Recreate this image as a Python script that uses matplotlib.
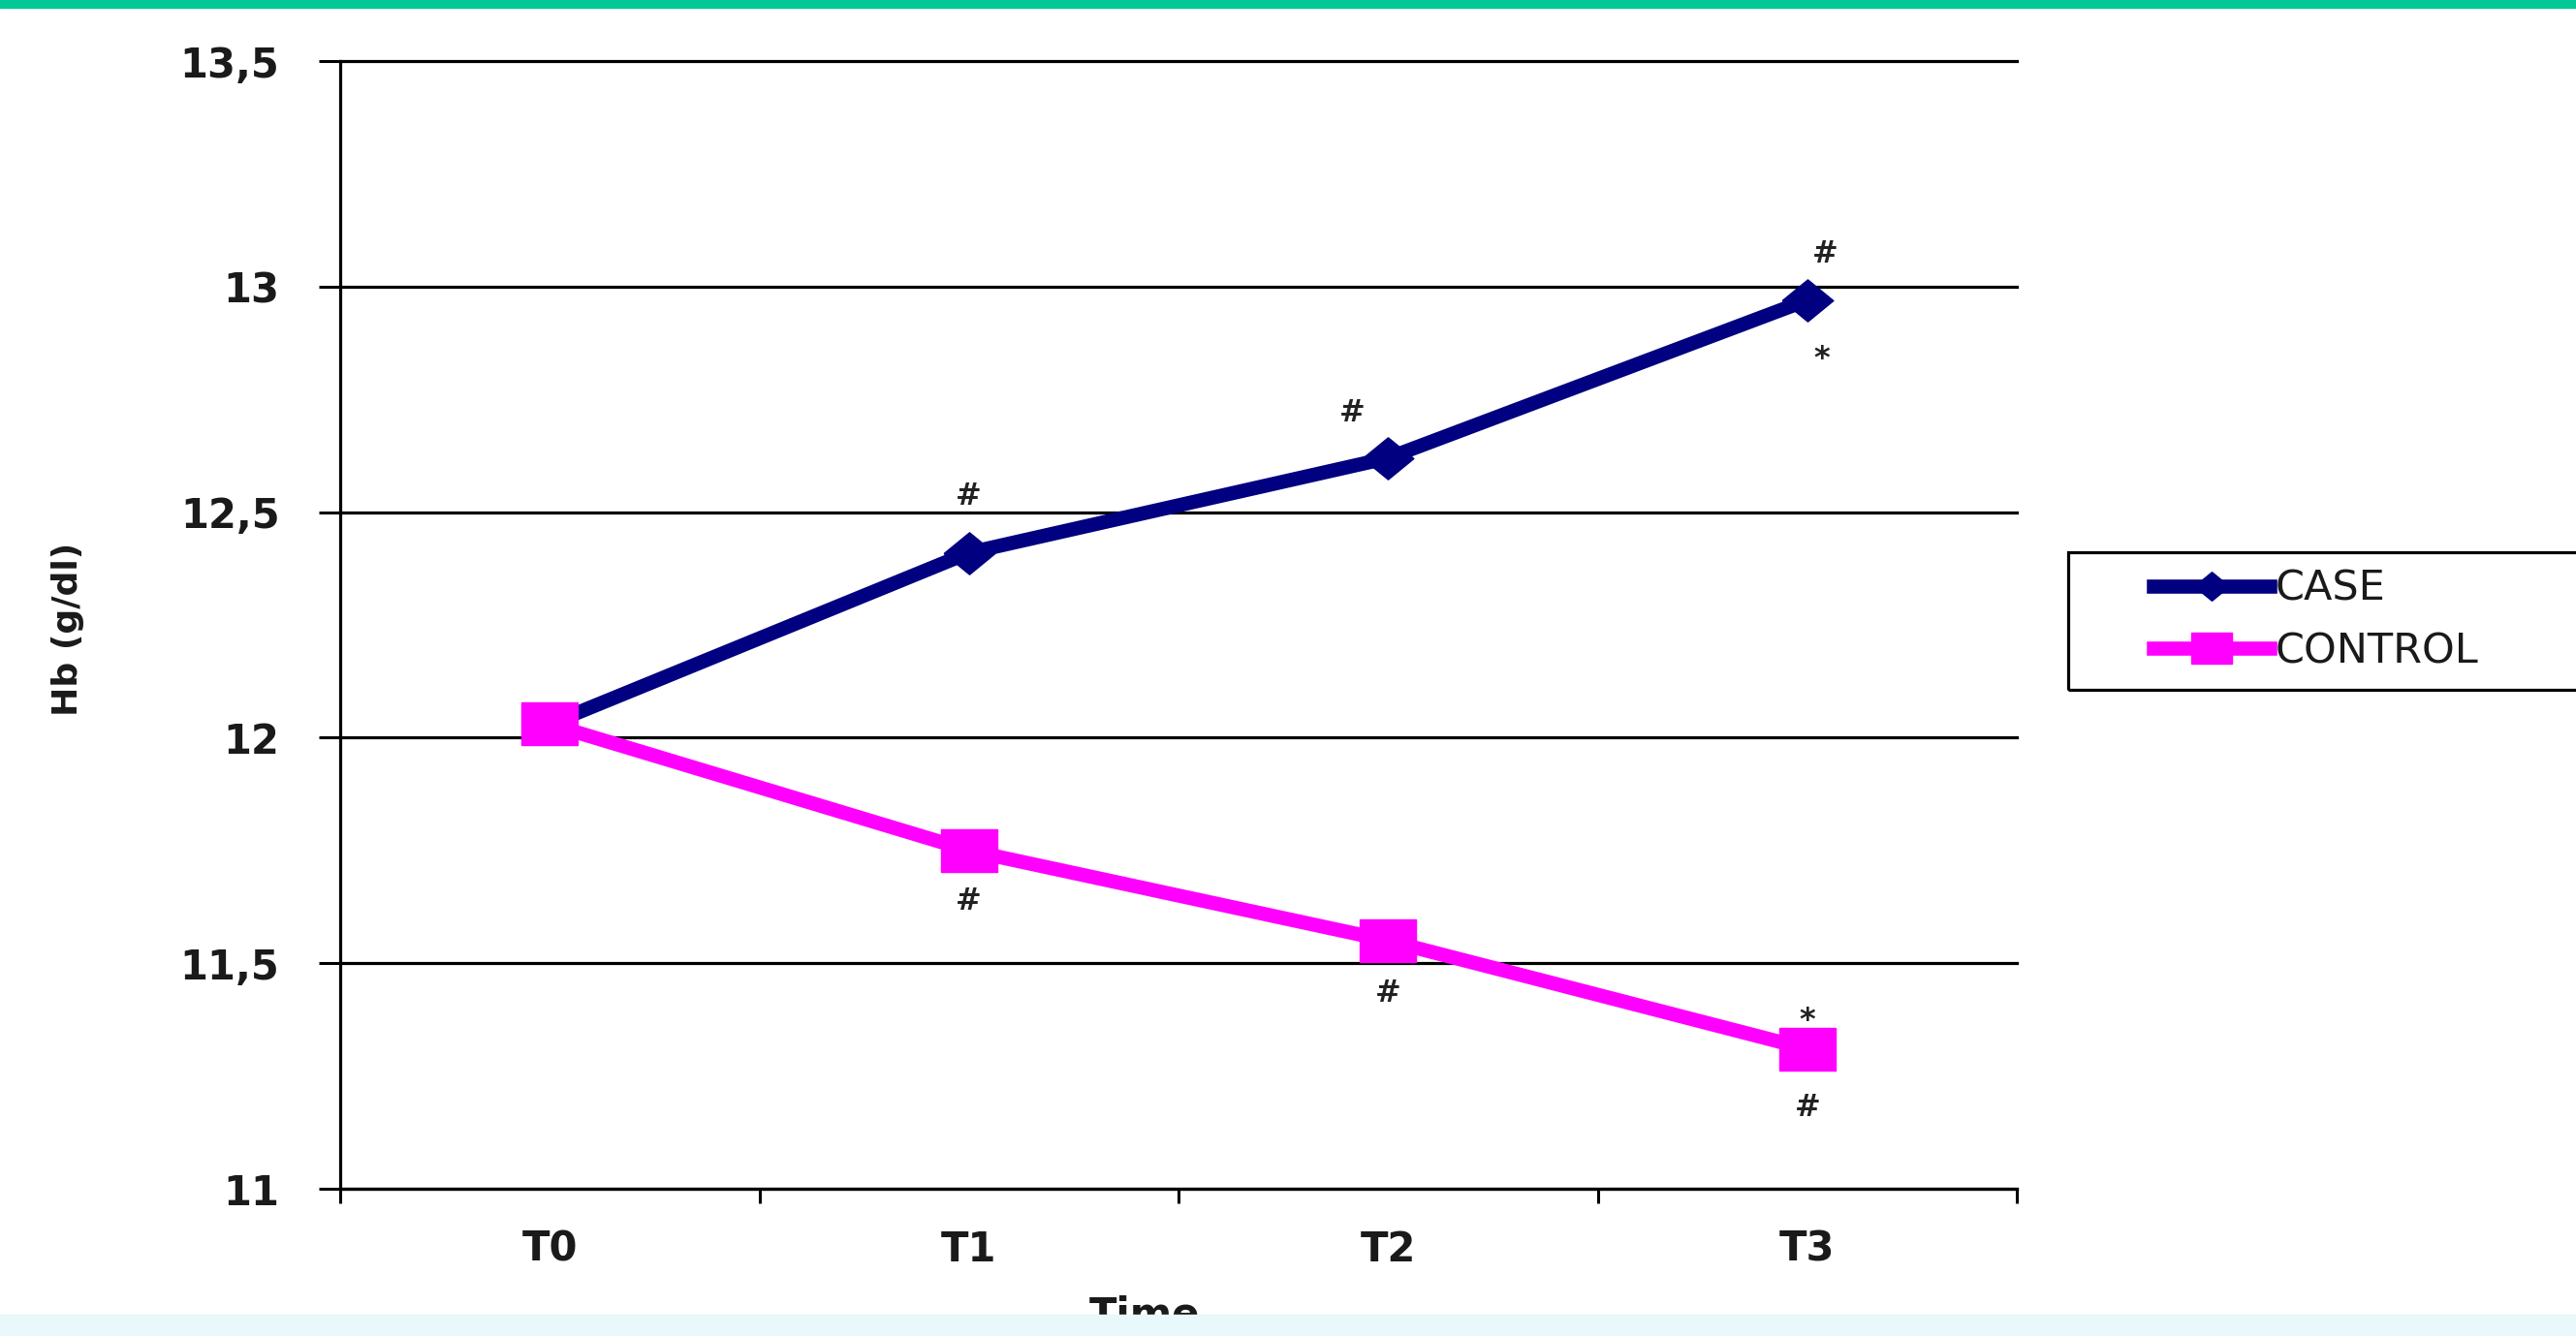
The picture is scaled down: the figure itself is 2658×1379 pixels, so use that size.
import matplotlib
matplotlib.use("Agg")
import matplotlib.pyplot as plt
from matplotlib.patches import Rectangle
from matplotlib.lines import Line2D

# data
times = ["T0", "T1", "T2", "T3"]
case_hb = [12.03, 12.41, 12.62, 12.97]
control_hb = [12.03, 11.75, 11.55, 11.31]
y_ticks = [11, 11.5, 12, 12.5, 13, 13.5]
y_tick_labels = ["11", "11,5", "12", "12,5", "13", "13,5"]

# significance marks: (series, index, symbol, dx pt, dy pt)
marks = [
    ("case", 1, "#", 0, 42),
    ("case", 2, "#", -27, 33),
    ("case", 3, "#", 13, 34),
    ("case", 3, "*", 11, -44),
    ("control", 1, "#", 0, -38),
    ("control", 2, "#", 0, -39),
    ("control", 3, "*", 0, 21),
    ("control", 3, "#", 0, -44),
]

W, H = 2658, 1379
fig = plt.figure(figsize=(W / 100, H / 100), dpi=100)
fig.patch.set_facecolor("white")
ax = fig.add_axes([351 / W, (H - 1227) / H, 1730 / W, 1164 / H])

navy = "#000080"
magenta = "#FF00FF"
diamond = [(-1, 0), (0, 0.82), (1, 0), (0, -0.82), (-1, 0)]
rect = [(-1, -0.77), (1, -0.77), (1, 0.77), (-1, 0.77), (-1, -0.77)]

x = list(range(len(times)))
ax.plot(x, case_hb, color=navy, lw=10.5, marker=diamond, ms=38, zorder=4)
ax.plot(x, control_hb, color=magenta, lw=10.5, marker=rect, ms=42, zorder=5)

series = {"case": case_hb, "control": control_hb}
for s, i, sym, dx, dy in marks:
    ax.annotate(sym, (x[i], series[s][i]), xytext=(dx, dy), textcoords="offset points",
                ha="center", va="center", fontsize=23, fontweight="bold", color="#222222")

ax.set_xlim(-0.5, 3.5)
ax.set_ylim(11, 13.5)
ax.set_yticks(y_ticks)
ax.set_yticklabels(y_tick_labels, fontsize=30, fontweight="bold", color="#1a1a1a")
ax.set_xticks(x)
ax.set_xticklabels(times, fontsize=30, fontweight="bold", color="#1a1a1a")
ax.set_xticks([-0.5, 0.5, 1.5, 2.5, 3.5], minor=True)
ax.tick_params(axis="x", which="major", length=0, pad=30)
ax.tick_params(axis="x", which="minor", length=11, width=2.2, direction="out")
ax.tick_params(axis="y", which="major", length=16, width=2.2, direction="out", pad=29)

ax.grid(axis="y", color="black", lw=2.3)
for t in ax.yaxis.get_major_ticks():
    t.gridline.set_clip_on(False)
ax.set_axisbelow(True)
for side in ["top", "right"]:
    ax.spines[side].set_visible(False)
for side in ["left", "bottom"]:
    ax.spines[side].set_linewidth(2.3)
    ax.spines[side].set_color("black")

fig.text(70 / W, 1 - 649 / H, "Hb (g/dl)", rotation=90, ha="center", va="center",
         fontsize=26, fontweight="bold", color="#1a1a1a")
fig.text(1181 / W, 1 - 1358 / H, "Time", ha="center", va="center",
         fontsize=30, fontweight="bold", color="#1a1a1a")

# legend with a box that runs off the right edge
handles = [
    Line2D([], [], color=navy, lw=10.5, marker=diamond, ms=26),
    Line2D([], [], color=magenta, lw=10.5, marker=rect, ms=30),
]
fig.legend(handles, ["CASE", "CONTROL"], loc="center left",
           bbox_to_anchor=(2200 / W, 1 - 640 / H), frameon=False, borderpad=0,
           handlelength=2.8, handletextpad=0.12, labelspacing=0.52, fontsize=31,
           labelcolor="#1a1a1a")
fig.add_artist(Rectangle((2134 / W, 1 - 712 / H), 0.3, 142 / H, transform=fig.transFigure,
                         fill=False, edgecolor="black", lw=2.3))

# page bands
fig.add_artist(Rectangle((0, 1 - 8 / H), 1, 8 / H, transform=fig.transFigure,
                         color="#00C896", zorder=10))
fig.add_artist(Rectangle((0, 0), 1, 22 / H, transform=fig.transFigure,
                         color="#E8F8FB", zorder=10))

fig.savefig("out.png", dpi=100)
